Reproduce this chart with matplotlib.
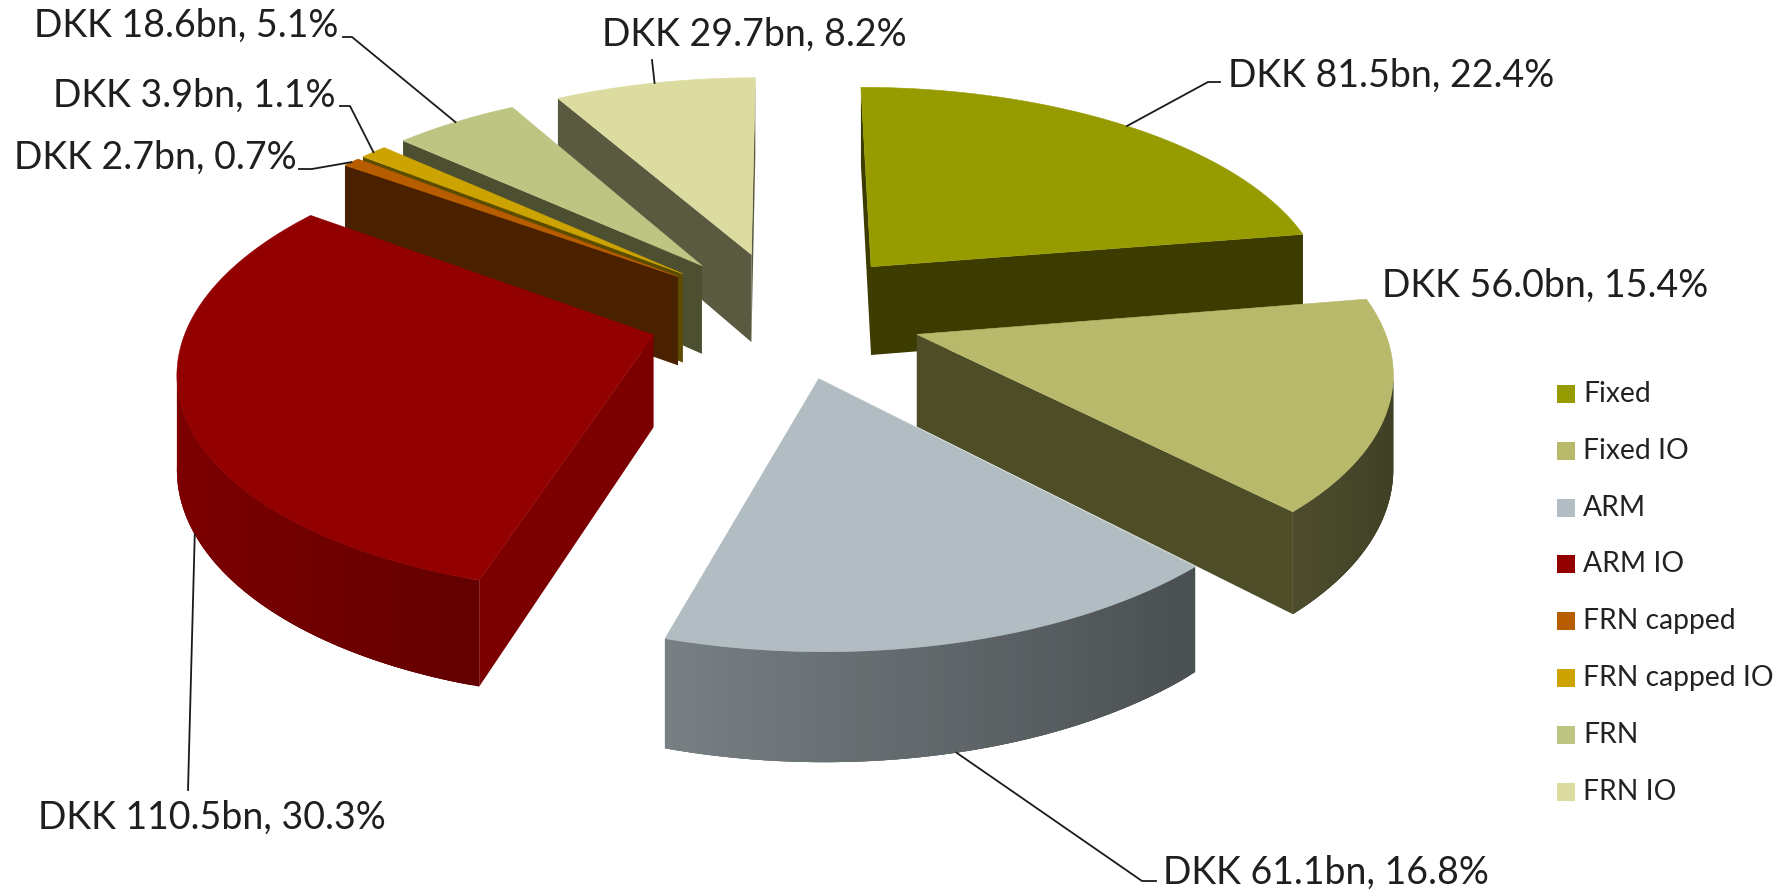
import numpy as np
import matplotlib
matplotlib.use("Agg")
import matplotlib.pyplot as plt
from matplotlib.patches import Polygon, Rectangle
from matplotlib.colors import to_rgb

plt.rcParams['font.family'] = ['Lato', 'DejaVu Sans']

# chart data
categories = ["Fixed", "Fixed IO", "ARM", "ARM IO", "FRN capped", "FRN capped IO", "FRN", "FRN IO"]
amounts = [81.5, 56.0, 61.1, 110.5, 2.7, 3.9, 18.6, 29.7]
shares = [22.4, 15.4, 16.8, 30.3, 0.7, 1.1, 5.1, 8.2]

# styles
top_colors = ["#969b00", "#b9b96c", "#b1bdc2", "#930000", "#b85c00", "#cca300", "#bec583", "#dcdba0"]
wall_colors = ["#3c3b00", "#4d4d28", "#4a5054", "#7c0000", "#4a2100", "#5c4c00", "#4c4f30", "#5a5a40"]
label_pos = [(1228, 76), (1382, 286), (1163, 873), (38, 818), (14, 158), (53, 96), (34, 26), (602, 35)]
# leader elbows, None means no leader
leader_pts = [[(1220, 82), (1208, 82)], None, [(1156, 881), (1142, 881)], [(188, 790)],
              [(299, 169), (312, 169)], [(340, 106), (350, 106)], [(343, 37), (352, 37)], [(652, 60)]]
# where along the slice's arc the leader lands
anchor_frac = [0.5, 0.5, 0.5, 0.44, 0.5, 0.5, 0.5, 0.5]
legend_y0, legend_dy = 394, 56.8

# projection of the exploded pie
cx, cy = 785, 314
ax_x, ax_y = 463, 216
depth = 91
persp = 0.137
explode = 0.296


def project(x, y, z=0):
    s = 1.0 / (1.0 + persp * y)
    return cx + ax_x * x * s, cy - (ax_y * y + z * depth) * s


def point(theta, r, off):
    # theta clockwise from the top, off = (dx, dy) of the exploded slice
    return off[0] + r * np.sin(theta), off[1] + r * np.cos(theta)


def visible(poly):
    p = np.array(poly)
    x, y = p[:, 0], p[:, 1]
    return np.sum(x * np.roll(y, -1) - np.roll(x, -1) * y) < 0


fig = plt.figure(figsize=(17.91, 8.92), dpi=100)
ax = fig.add_axes([0, 0, 1, 1])
ax.set_xlim(0, 1791)
ax.set_ylim(892, 0)
ax.axis("off")

vals = np.array(shares, dtype=float)
edges = np.concatenate([[0], np.cumsum(vals) / vals.sum()]) * 2 * np.pi
mids = (edges[:-1] + edges[1:]) / 2
offs = [(explode * np.sin(m), explode * np.cos(m)) for m in mids]


def quad(a, b, color, zo):
    pa = project(*a)
    pb = project(*b)
    pc = project(*b, -1)
    pd = project(*a, -1)
    poly = [pa, pb, pc, pd]
    if visible(poly):
        ax.add_patch(Polygon(poly, closed=True, fc=color, ec="none", zorder=zo))


# back slices first
order = sorted(range(len(vals)), key=lambda i: -offs[i][1] - np.cos(mids[i]) * 0.5)
for zi, i in enumerate(order):
    t0, t1 = edges[i], edges[i + 1]
    off = offs[i]
    ts = np.linspace(t0, t1, max(4, int((t1 - t0) * 60)))
    base = np.array(to_rgb(top_colors[i]))
    tip = off

    # radial walls
    quad(tip, point(t0, 1, off), wall_colors[i], zi * 2 + 1)
    quad(point(t1, 1, off), tip, wall_colors[i], zi * 2 + 1)

    # outer wall with a left to right shading, each strip overlaps the next to hide seams
    for k, (a, b) in enumerate(zip(ts[:-1], ts[1:])):
        shade = 0.6 - 0.265 * np.sin((a + b) / 2)
        b2 = ts[min(k + 3, len(ts) - 1)]
        arc = np.linspace(a, b2, 5)
        top = [project(*point(t, 1, off)) for t in arc]
        bot = [project(*point(t, 1, off), -1) for t in arc[::-1]]
        if visible([top[0], top[-1], bot[0], bot[-1]]):
            ax.add_patch(Polygon(top + bot, closed=True, fc=tuple(base * shade), ec="none", zorder=zi * 2 + 1))

    # top face
    outline = [project(*tip)] + [project(*point(t, 1, off)) for t in ts]
    ax.add_patch(Polygon(outline, closed=True, fc=top_colors[i], ec=top_colors[i], lw=0.4, zorder=zi * 2 + 2))

# labels and leaders
for i in range(len(vals)):
    txt = "DKK {:.1f}bn, {:.1f}%".format(amounts[i], shares[i])
    ax.text(label_pos[i][0], label_pos[i][1], txt, fontsize=27, color="#1f1f1f", ha="left", va="center", zorder=40)
    if leader_pts[i] is None:
        continue
    theta = edges[i] + anchor_frac[i] * (edges[i + 1] - edges[i])
    xy = point(theta, 1, offs[i])
    # the front slices get their leader from the bottom of the wall
    end = project(*xy, -1) if np.cos(mids[i]) < -0.2 else project(*xy)
    pts = leader_pts[i] + [end]
    ax.plot([p[0] for p in pts], [p[1] for p in pts], color="#1a1a1a", lw=1.3, zorder=30)

# legend
for i, name in enumerate(categories):
    y = legend_y0 + i * legend_dy
    ax.add_patch(Rectangle((1557, y - 9), 18, 18, fc=top_colors[i], ec="none"))
    ax.text(1583, y, name, fontsize=20.3, color="#222222", ha="left", va="center")

fig.savefig("out.png", dpi=100)
